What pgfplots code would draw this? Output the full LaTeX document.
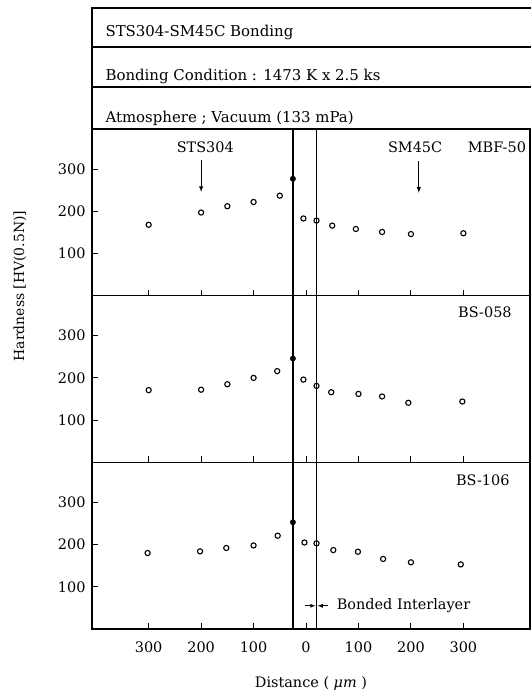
\documentclass[border=0pt]{standalone}
\usepackage{fontspec}
\setmainfont{DejaVu Serif}
\usepackage{pgfplots}
\pgfplotsset{compat=1.18}
\tikzset{txt/.style={font=\fontsize{14.5}{16}\selectfont},
  htxt/.style={font=\fontsize{15}{17}\selectfont}}
\begin{document}
\begin{tikzpicture}[x=1bp,y=1bp]
\useasboundingbox (0,0) rectangle (531,697);
\pgfplotsset{
  panel/.style={
    scale only axis, width=438bp, height=166.7bp,
    xmin=-408, xmax=427, ymin=0, ymax=395,
    anchor=south west, clip=false,
    axis line style={line width=1.2bp},
    tick style={line width=0.9bp, black},
    major tick length=6bp, tick align=inside,
    xtick pos=left, ytick pos=left,
    xtick={-300,-200,-100,0,100,200,300},
    ytick={100,200,300},
    /pgf/number format/assume math mode=true,
    tick label style={font=\fontsize{14.5}{14.5}\selectfont},
    yticklabel style={xshift=-3bp},
    xticklabel style={yshift=-9bp},
  },
  pts/.style={only marks, mark=o, mark size=2.6bp, mark options={line width=1.1bp}, black},
  fpt/.style={only marks, mark=*, mark size=2.7bp, black},
  vl/.style={black, line width=1.3bp},
}
% header box
\draw[line width=1.2bp] (92,568) -- (92,689) -- (531,689);
\draw[line width=1.2bp] (92,650) -- (531,650);
\draw[line width=1.2bp] (92,610) -- (531,610);
\node[anchor=west, htxt] at (102,665) {STS304-SM45C Bonding};
\node[anchor=west, htxt] at (102,621) {Bonding Condition : 1473 K x 2.5 ks};
\node[anchor=west, htxt] at (102,579) {Atmosphere ; Vacuum (133 mPa)};
% y label
\node[rotate=90, font=\fontsize{14}{16}\selectfont] at (20,411) {Hardness [HV(0.5N)]};

% panel 1
\begin{axis}[panel, at={(92bp,401.3bp)}, xticklabels={}]
\addplot[vl] coordinates {(-25,0) (-25,395)};
\addplot[vl] coordinates {(20,0) (20,395)};
\addplot[pts] coordinates {(-300,168) (-200,197) (-150,212) (-100,222) (-50,237) (-5,183) (20,178) (50,166) (95,158) (145,151) (200,146) (300,148)};
\addplot[fpt] coordinates {(-25,277)};
\node[txt] at (axis cs:-192,351) {STS304};
\draw[-latex, line width=0.9bp] (axis cs:-200,322) -- (axis cs:-200,246);
\node[txt] at (axis cs:208,351) {SM45C};
\draw[-latex, line width=0.9bp] (axis cs:215,318) -- (axis cs:215,244);
\node[txt] at (axis cs:364,351) {MBF-50};
\end{axis}

% panel 2
\begin{axis}[panel, at={(92bp,234.7bp)}, xticklabels={}]
\addplot[vl] coordinates {(-25,0) (-25,395)};
\addplot[vl] coordinates {(20,0) (20,395)};
\addplot[pts] coordinates {(-300,171) (-200,172) (-150,185) (-100,200) (-55,216) (-5,196) (20,181) (48,166) (100,162) (145,156) (195,141) (298,144)};
\addplot[fpt] coordinates {(-25,246)};
\node[txt] at (axis cs:341,355) {BS-058};
\end{axis}

% panel 3
\begin{axis}[panel, at={(92bp,68bp)}, xticklabels={300,200,100,0,100,200,300},
  xlabel={Distance ( \textit{μm} )}, xlabel style={txt, yshift=-17bp}]
\addplot[vl] coordinates {(-25,0) (-25,395)};
\addplot[vl] coordinates {(20,0) (20,395)};
\addplot[pts] coordinates {(-302,180) (-202,184) (-152,192) (-100,198) (-54,221) (-3,205) (20,203) (52,187) (99,183) (147,166) (200,158) (295,153)};
\addplot[fpt] coordinates {(-25,253)};
\node[txt] at (axis cs:337,353) {BS-106};
\draw[-latex, line width=0.8bp] (axis cs:-2,55) -- (axis cs:18,55);
\draw[-latex, line width=0.8bp] (axis cs:42,55) -- (axis cs:22,55);
\node[anchor=west, txt] at (axis cs:52,55) {Bonded Interlayer};
\end{axis}
\end{tikzpicture}
\end{document}
